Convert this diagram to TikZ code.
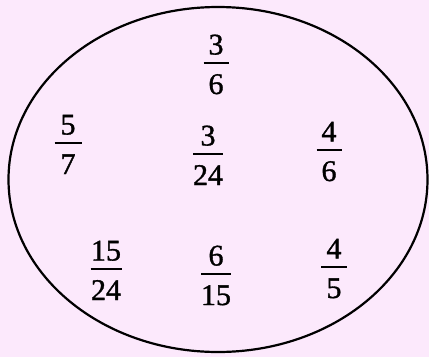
\documentclass[tikz,border=0pt]{standalone}
\usepackage{fontspec}
\setmainfont{Liberation Serif}
\newfontfamily\numfont[FakeBold=1.2]{Liberation Serif}
\usetikzlibrary{shapes.geometric}
\definecolor{bgpink}{RGB}{252,233,252}
\tikzset{
  digits/.style={font=\numfont\fontsize{30}{34}\selectfont,inner sep=0pt,anchor=base},
  fracbar/.style={line width=1.5pt},
  oval/.style={draw,ellipse,line width=2.2pt,inner sep=0pt}
}

\begin{document}
\begin{tikzpicture}[x=1pt,y=-1pt]
  \fill[bgpink] (0,0) rectangle (429,357);
  \useasboundingbox (0,0) rectangle (429,357);
  \node[oval,minimum width=419pt,minimum height=345pt] (set) at (218,179.5) {};
  % name/x/y/numerator/denominator/bar width
  \foreach \nm/\x/\y/\num/\den/\w in {
      top/216/63/3/6/25, left/68/143/5/7/27, mid/208/154/3/24/30,
      right/329/150/4/6/25, lowleft/106/269/15/24/31,
      lowmid/216/274/6/15/30, lowright/334/267/4/5/26}{
    \coordinate (\nm) at (\x,\y);
    \node[digits] (\nm-num) at ([yshift=8.5pt]\nm) {\num};
    \node[digits] (\nm-den) at ([yshift=-31pt]\nm) {\den};
    \draw[fracbar] ([xshift=-\w pt/2]\nm) -- ([xshift=\w pt/2]\nm);
  }
\end{tikzpicture}
\end{document}
